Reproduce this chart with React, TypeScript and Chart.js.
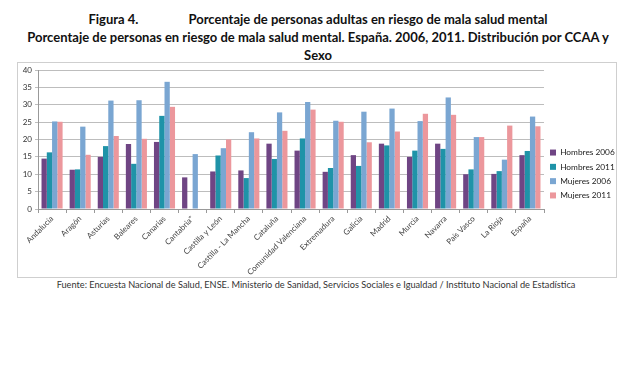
import React, { useEffect, useRef } from 'react';
import { Chart, registerables } from 'chart.js';

Chart.register(...registerables);

const categories = [
  'Andalucía', 'Aragón', 'Asturias', 'Baleares', 'Canarias', 'Cantabria*',
  'Castilla y León', 'Castilla - La Mancha', 'Cataluña', 'Comunidad Valenciana',
  'Extremadura', 'Galicia', 'Madrid', 'Murcia', 'Navarra', 'País Vasco', 'La Rioja', 'España',
];
const hombres2006 = [14.5, 11.3, 15.0, 18.7, 19.3, 9.1, 10.8, 11.1, 18.8, 16.8, 10.7, 15.5, 18.8, 15.0, 18.8, 10.0, 10.1, 15.5];
const hombres2011 = [16.3, 11.4, 18.1, 13.0, 26.8, null, 15.4, 8.9, 14.4, 20.3, 11.8, 12.4, 18.3, 16.8, 17.3, 11.4, 10.9, 16.7];
const mujeres2006 = [25.2, 23.7, 31.2, 31.3, 36.6, 15.8, 17.5, 22.1, 27.8, 30.8, 25.4, 28.0, 28.9, 25.3, 32.1, 20.7, 14.2, 26.6];
const mujeres2011 = [25.1, 15.6, 21.0, 20.2, 29.4, null, 20.0, 20.3, 22.5, 28.6, 25.1, 19.2, 22.3, 27.4, 27.1, 20.7, 24.0, 23.8];
const seriesNames = ['Hombres 2006', 'Hombres 2011', 'Mujeres 2006', 'Mujeres 2011'];
const seriesColors = ['#6f4584', '#1f93a8', '#7aa6d2', '#ec979c'];

const FONT = 'Lato, "Open Sans", sans-serif';

export default function App() {
  const ref = useRef<HTMLCanvasElement>(null);
  useEffect(() => {
    if (!ref.current) return;
    const legendWidth = {
      id: 'legendWidth',
      beforeLayout(chart: any) {
        const lg = chart.legend;
        if (lg && !lg._patched) {
          const orig = lg.fit;
          lg.fit = function () {
            orig.call(this);
            this.width = 73;
          };
          lg._patched = true;
        }
      },
    };
    const data = [hombres2006, hombres2011, mujeres2006, mujeres2011];
    const chart = new Chart(ref.current, {
      type: 'bar',
      data: {
        labels: categories,
        datasets: data.map((d, i) => ({
          label: seriesNames[i],
          data: d,
          backgroundColor: seriesColors[i],
          borderWidth: 0,
          categoryPercentage: 0.75,
          barPercentage: 1.0,
        })),
      },
      options: {
        responsive: false,
        animation: false,
        layout: { padding: { top: 8, left: 0, right: 0, bottom: 0 } },
        plugins: {
          legend: {
            position: 'right',
            align: 'center',
            labels: {
              boxWidth: 6,
              boxHeight: 6,
              padding: 6,
              color: '#222',
              font: { family: FONT, size: 8.3 },
            },
          },
          tooltip: { enabled: false },
        },
        scales: {
          x: {
            grid: { display: true, drawOnChartArea: false, offset: true, tickLength: 4, color: '#999' },
            border: { display: true, color: '#999' },
            ticks: {
              minRotation: 45,
              maxRotation: 45,
              autoSkip: false,
              padding: 1,
              color: '#444',
              font: { family: FONT, size: 8 },
            },
            afterFit: (s: any) => { s.height = 69; },
          },
          y: {
            min: 0,
            max: 40,
            ticks: { stepSize: 5, padding: 3, color: '#333', font: { family: FONT, size: 8 } },
            grid: { color: '#bdbdbd', tickLength: 3 },
            border: { display: true, color: '#999' },
            afterFit: (s: any) => { s.width = 21; },
          },
        },
      },
      plugins: [legendWidth],
    });
    return () => chart.destroy();
  }, []);

  return (
    <div style={{ position: 'absolute', left: 0, top: 0, width: 620, height: 368, background: '#fff', fontFamily: FONT }}>
      <div style={{ position: 'absolute', left: 8, top: 10, width: 620, textAlign: 'center', fontWeight: 700, fontSize: 13, lineHeight: '18px', color: '#111' }}>
        <div>
          <span>Figura 4.</span>
          <span style={{ display: 'inline-block', width: 50 }} />
          <span>Porcentaje de personas adultas en riesgo de mala salud mental</span>
        </div>
        <div>Porcentaje de personas en riesgo de mala salud mental. España. 2006, 2011. Distribución por CCAA y</div>
        <div>Sexo</div>
      </div>
      <div style={{ position: 'absolute', left: 17, top: 62, width: 600, height: 216, boxSizing: 'border-box', border: '1px solid #cfcfcf' }} />
      <canvas ref={ref} width={600} height={216} style={{ position: 'absolute', left: 17, top: 62, width: 600, height: 216 }} />
      <div style={{ position: 'absolute', left: 0, top: 279, width: 632, textAlign: 'center', fontSize: 9.2, color: '#333' }}>
        Fuente: Encuesta Nacional de Salud, ENSE. Ministerio de Sanidad, Servicios Sociales e Igualdad / Instituto Nacional de Estadística
      </div>
    </div>
  );
}
